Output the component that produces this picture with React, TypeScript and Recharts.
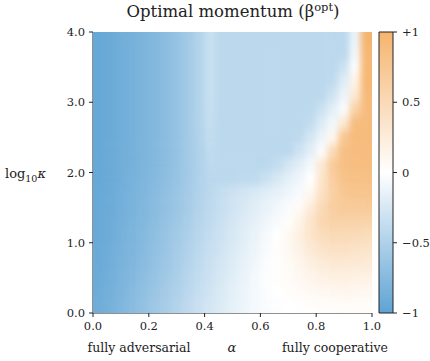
import { ScatterChart, Scatter, XAxis, YAxis, ReferenceArea } from 'recharts';

// cell centres of the heatmap
const ALPHA = [
  0.02, 0.06, 0.1, 0.14, 0.18, 0.22, 0.26, 0.3, 0.34, 0.38, 0.42, 0.46, 0.5,
  0.54, 0.58, 0.62, 0.66, 0.7, 0.74, 0.78, 0.82, 0.86, 0.9, 0.94, 0.98,
];
const LOG_KAPPA = [
  3.9, 3.7, 3.5, 3.3, 3.1, 2.9, 2.7, 2.5, 2.3, 2.1, 1.9, 1.7, 1.5, 1.3, 1.1,
  0.9, 0.7, 0.5, 0.3, 0.1,
];

// beta_opt, one row per log10 kappa (top to bottom), one value per alpha
const BETA_OPT: number[][] = [
  [-0.95, -0.92, -0.88, -0.85, -0.81, -0.77, -0.72, -0.66, -0.58, -0.48, -0.34, -0.42, -0.42, -0.42, -0.42, -0.42, -0.42, -0.42, -0.42, -0.42, -0.42, -0.42, -0.42, -0.12, 1.0],
  [-0.95, -0.92, -0.88, -0.85, -0.81, -0.77, -0.72, -0.66, -0.58, -0.48, -0.34, -0.42, -0.42, -0.42, -0.42, -0.42, -0.42, -0.42, -0.42, -0.42, -0.42, -0.42, -0.42, -0.08, 0.95],
  [-0.95, -0.92, -0.88, -0.85, -0.81, -0.77, -0.72, -0.66, -0.58, -0.48, -0.34, -0.42, -0.42, -0.42, -0.42, -0.42, -0.42, -0.42, -0.42, -0.42, -0.42, -0.42, -0.32, -0.02, 0.95],
  [-0.95, -0.92, -0.88, -0.85, -0.81, -0.77, -0.72, -0.66, -0.58, -0.48, -0.34, -0.42, -0.42, -0.42, -0.42, -0.42, -0.42, -0.42, -0.42, -0.42, -0.42, -0.4, -0.2, 0.15, 0.95],
  [-0.95, -0.92, -0.88, -0.85, -0.81, -0.77, -0.72, -0.66, -0.58, -0.48, -0.34, -0.42, -0.42, -0.42, -0.42, -0.42, -0.42, -0.42, -0.42, -0.42, -0.42, -0.3, -0.12, 0.3, 0.92],
  [-0.95, -0.92, -0.88, -0.85, -0.81, -0.77, -0.72, -0.66, -0.58, -0.48, -0.35, -0.42, -0.42, -0.42, -0.42, -0.42, -0.42, -0.42, -0.42, -0.42, -0.32, -0.18, -0.03, 0.6, 0.9],
  [-0.95, -0.92, -0.88, -0.85, -0.81, -0.77, -0.72, -0.66, -0.58, -0.48, -0.36, -0.42, -0.42, -0.42, -0.42, -0.42, -0.42, -0.42, -0.42, -0.38, -0.22, -0.08, 0.3, 0.88, 0.9],
  [-0.95, -0.92, -0.88, -0.85, -0.81, -0.77, -0.72, -0.66, -0.58, -0.49, -0.37, -0.42, -0.42, -0.42, -0.42, -0.42, -0.42, -0.42, -0.4, -0.27, -0.12, 0.1, 0.75, 0.9, 0.9],
  [-0.95, -0.92, -0.88, -0.85, -0.81, -0.77, -0.72, -0.66, -0.58, -0.5, -0.39, -0.42, -0.42, -0.42, -0.42, -0.42, -0.42, -0.42, -0.3, -0.18, -0.02, 0.5, 0.85, 0.88, 0.88],
  [-0.95, -0.92, -0.88, -0.85, -0.81, -0.77, -0.72, -0.66, -0.58, -0.5, -0.41, -0.42, -0.42, -0.42, -0.42, -0.42, -0.38, -0.27, -0.18, -0.07, 0.3, 0.7, 0.85, 0.87, 0.87],
  [-0.95, -0.92, -0.88, -0.84, -0.8, -0.76, -0.71, -0.65, -0.58, -0.5, -0.43, -0.42, -0.42, -0.4, -0.4, -0.33, -0.25, -0.17, -0.1, 0.0, 0.35, 0.65, 0.8, 0.83, 0.83],
  [-0.94, -0.91, -0.87, -0.83, -0.79, -0.74, -0.69, -0.63, -0.56, -0.49, -0.42, -0.36, -0.31, -0.27, -0.23, -0.19, -0.15, -0.1, -0.05, 0.1, 0.4, 0.62, 0.74, 0.78, 0.78],
  [-0.94, -0.91, -0.87, -0.83, -0.78, -0.73, -0.68, -0.62, -0.55, -0.48, -0.41, -0.35, -0.29, -0.24, -0.19, -0.14, -0.09, -0.04, 0.05, 0.25, 0.5, 0.65, 0.7, 0.7, 0.7],
  [-0.93, -0.9, -0.86, -0.82, -0.77, -0.72, -0.66, -0.6, -0.53, -0.46, -0.39, -0.33, -0.27, -0.21, -0.16, -0.1, -0.05, 0.03, 0.15, 0.35, 0.52, 0.6, 0.6, 0.6, 0.58],
  [-0.93, -0.9, -0.85, -0.81, -0.76, -0.7, -0.64, -0.58, -0.51, -0.44, -0.37, -0.31, -0.25, -0.19, -0.13, -0.07, 0.0, 0.08, 0.2, 0.35, 0.46, 0.5, 0.5, 0.48, 0.46],
  [-0.92, -0.89, -0.84, -0.8, -0.75, -0.69, -0.63, -0.56, -0.49, -0.42, -0.35, -0.29, -0.23, -0.17, -0.11, -0.05, 0.02, 0.08, 0.17, 0.28, 0.36, 0.4, 0.4, 0.38, 0.36],
  [-0.92, -0.88, -0.83, -0.79, -0.73, -0.67, -0.61, -0.54, -0.47, -0.4, -0.33, -0.27, -0.21, -0.15, -0.09, -0.03, 0.02, 0.06, 0.12, 0.2, 0.26, 0.3, 0.3, 0.29, 0.27],
  [-0.91, -0.87, -0.82, -0.77, -0.71, -0.65, -0.59, -0.52, -0.45, -0.38, -0.31, -0.25, -0.19, -0.13, -0.07, -0.02, 0.02, 0.05, 0.09, 0.13, 0.17, 0.2, 0.2, 0.19, 0.18],
  [-0.9, -0.86, -0.81, -0.75, -0.69, -0.63, -0.56, -0.5, -0.43, -0.36, -0.29, -0.23, -0.17, -0.12, -0.07, -0.03, 0.0, 0.03, 0.05, 0.08, 0.1, 0.11, 0.12, 0.11, 0.1],
  [-0.89, -0.85, -0.79, -0.73, -0.67, -0.6, -0.54, -0.47, -0.4, -0.33, -0.27, -0.21, -0.16, -0.11, -0.07, -0.04, -0.02, 0.0, 0.01, 0.02, 0.03, 0.04, 0.04, 0.04, 0.04],
];

const ALPHA_TICKS = [0, 0.2, 0.4, 0.6, 0.8, 1];
const KAPPA_TICKS = [0, 1, 2, 3, 4];
const CBAR_TICKS = [-1, -0.5, 0, 0.5, 1];
const CBAR_LABELS = ['\u22121', '\u22120.5', '0', '0.5', '+1'];

const FONT = '"DejaVu Serif", serif';
const INK = '#222';
const BLUE = [94, 163, 212];
const ORANGE = [245, 180, 110];

// plot box of the heatmap, in px
const PLOT_L = 93;
const PLOT_R = 372;
const PLOT_T = 32;
const PLOT_B = 313;
const CELL_W = (PLOT_R - PLOT_L) / ALPHA.length;
const CELL_H = (PLOT_B - PLOT_T) / LOG_KAPPA.length;

function betaColor(v: number) {
  const t = Math.min(1, Math.abs(v));
  const end = v < 0 ? BLUE : ORANGE;
  const c = end.map((e) => Math.round(255 + (e - 255) * t));
  return `rgb(${c[0]},${c[1]},${c[2]})`;
}

const cells = BETA_OPT.flatMap((row, r) =>
  row.map((beta, c) => ({ alpha: ALPHA[c], kappa: LOG_KAPPA[r], beta })),
);

const cbarPoints = CBAR_TICKS.map((t) => ({ x: 0.5, y: t }));

function HeatCell(props: any) {
  const { cx, cy, payload } = props;
  return (
    <rect
      x={cx - CELL_W / 2 - 0.3}
      y={cy - CELL_H / 2 - 0.3}
      width={CELL_W + 0.6}
      height={CELL_H + 0.6}
      fill={betaColor(payload.beta)}
    />
  );
}

const tickStyle = { fill: INK, fontSize: 11.5, fontFamily: FONT };
const layer = { position: 'absolute' as const, left: 0, top: 0 };

export default function App() {
  return (
    <div style={{ ...layer, width: 430, height: 361, background: '#fff' }}>
      <style>{'.heatmap .recharts-scatter { filter: url(#heatBlur); }'}</style>
      <svg width={0} height={0} style={{ position: 'absolute' }}>
        <defs>
          <linearGradient id="betaGrad" x1="0" y1="0" x2="0" y2="1">
            <stop offset="0%" stopColor={betaColor(1)} />
            <stop offset="50%" stopColor="#fff" />
            <stop offset="100%" stopColor={betaColor(-1)} />
          </linearGradient>
          {/* soften the cell grid, kept inside the plot box */}
          <filter
            id="heatBlur"
            filterUnits="userSpaceOnUse"
            x={PLOT_L}
            y={PLOT_T}
            width={PLOT_R - PLOT_L}
            height={PLOT_B - PLOT_T}
            colorInterpolationFilters="sRGB"
          >
            <feGaussianBlur stdDeviation="3 4" />
            <feComponentTransfer>
              <feFuncA type="table" tableValues="1 1" />
            </feComponentTransfer>
          </filter>
        </defs>
      </svg>

      <div style={layer} className="heatmap">
        <ScatterChart
          width={430}
          height={361}
          margin={{ top: PLOT_T, right: 430 - PLOT_R, bottom: 18, left: PLOT_L - 40 }}
        >
          <XAxis
            type="number"
            dataKey="alpha"
            domain={[0, 1]}
            ticks={ALPHA_TICKS}
            tickFormatter={(v: number) => v.toFixed(1)}
            height={30}
            tickSize={4}
            tickMargin={5}
            stroke={INK}
            tick={tickStyle}
          />
          <XAxis xAxisId="top" orientation="top" type="number" domain={[0, 1]} height={0} tick={false} tickLine={false} stroke={INK} />
          <YAxis
            type="number"
            dataKey="kappa"
            domain={[0, 4]}
            ticks={KAPPA_TICKS}
            tickFormatter={(v: number) => v.toFixed(1)}
            width={40}
            tickSize={4}
            tickMargin={4}
            stroke={INK}
            tick={tickStyle}
          />
          <YAxis yAxisId="right" orientation="right" type="number" domain={[0, 4]} width={0} tick={false} tickLine={false} stroke={INK} />
          <Scatter data={cells} shape={HeatCell} isAnimationActive={false} />
        </ScatterChart>
      </div>

      {/* colour bar */}
      <div style={layer}>
        <ScatterChart width={430} height={361} margin={{ top: PLOT_T, right: 0, bottom: 361 - PLOT_B, left: 379 }}>
          <XAxis type="number" dataKey="x" domain={[0, 1]} hide />
          <YAxis
            type="number"
            dataKey="y"
            orientation="right"
            domain={[-1, 1]}
            ticks={CBAR_TICKS}
            tickFormatter={(v: number) => CBAR_LABELS[CBAR_TICKS.indexOf(v)]}
            width={37}
            tickSize={4}
            tickMargin={5}
            axisLine={false}
            stroke={INK}
            tick={tickStyle}
          />
          <ReferenceArea x1={0} x2={1} y1={-1} y2={1} fill="url(#betaGrad)" fillOpacity={1} stroke={INK} strokeWidth={1} ifOverflow="visible" />
          <Scatter data={cbarPoints} shape={() => <g />} isAnimationActive={false} />
        </ScatterChart>
      </div>

      <svg width={430} height={361} style={{ ...layer, pointerEvents: 'none' }} fontFamily={FONT} fill={INK}>
        <text x={233} y={17} textAnchor="middle" fontSize={16.5}>
          Optimal momentum (β<tspan dy={-6} fontSize={11.5}>opt</tspan><tspan dy={6}>)</tspan>
        </text>
        <text x={139} y={352} textAnchor="middle" fontSize={12.5}>fully adversarial</text>
        <text x={232} y={352} textAnchor="middle" fontSize={13} fontStyle="italic">α</text>
        <text x={335} y={352} textAnchor="middle" fontSize={12.5}>fully cooperative</text>
        <text x={5} y={178} fontSize={13}>
          log<tspan dy={4} fontSize={9.5}>10</tspan><tspan dy={-4} fontStyle="italic">κ</tspan>
        </text>
      </svg>
    </div>
  );
}
